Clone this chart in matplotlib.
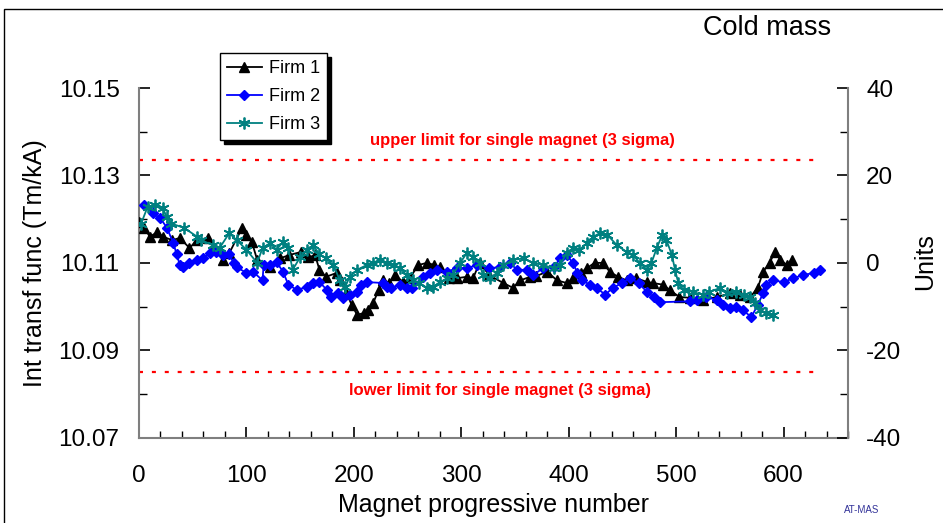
import matplotlib.pyplot as plt
from matplotlib.patches import Rectangle
from matplotlib.ticker import MultipleLocator
import numpy as np

plt.rcParams['font.family'] = ['Liberation Sans', 'DejaVu Sans']
plt.rcParams['axes.unicode_minus'] = False

# Integral transfer function vs magnet progressive number (cold mass)
firm1_n = [0, 5, 10, 17, 22, 31, 38, 47, 54, 64, 70, 78, 84, 96, 100, 105, 110, 122, 131, 140,
           151, 157, 164, 168, 174, 184, 187, 193, 198, 203, 209, 213, 218, 223, 227, 233, 238,
           246, 252, 260, 268, 275, 280, 289, 296, 305, 311, 317, 326, 339, 348, 355, 364, 370,
           380, 389, 398, 404, 411, 417, 424, 432, 438, 446, 454, 463, 473, 478, 488, 494, 503,
           513, 525, 538, 550, 559, 569, 576, 581, 587, 592, 597, 603, 608]
firm1_v = [10.1193, 10.118, 10.116, 10.117, 10.116, 10.1152, 10.1157, 10.1134, 10.1152, 10.1157,
           10.1134, 10.1107, 10.1122, 10.118, 10.1164, 10.1148, 10.1107, 10.109, 10.111, 10.1118,
           10.1125, 10.1113, 10.1117, 10.1084, 10.1068, 10.1077, 10.106, 10.1031, 10.1004, 10.0981,
           10.0985, 10.0992, 10.1008, 10.1038, 10.106, 10.1054, 10.1072, 10.1056, 10.1065, 10.1095,
           10.110, 10.1095, 10.109, 10.1065, 10.1065, 10.1068, 10.1065, 10.110, 10.1072, 10.1054,
           10.1043, 10.106, 10.1068, 10.107, 10.108, 10.106, 10.1054, 10.1065, 10.1077, 10.1088,
           10.110, 10.110, 10.108, 10.1068, 10.106, 10.1065, 10.1056, 10.1054, 10.105, 10.1038,
           10.1022, 10.102, 10.1015, 10.1022, 10.103, 10.1027, 10.1022, 10.1043, 10.108, 10.110,
           10.1125, 10.1107, 10.1095, 10.1107]

firm2_n = [5, 13, 20, 26, 32, 35, 38, 41, 47, 54, 60, 66, 72, 78, 84, 88, 91, 100, 106, 115,
           116, 122, 128, 134, 139, 147, 156, 162, 168, 175, 179, 185, 190, 196, 203, 207, 212,
           227, 231, 235, 243, 249, 254, 264, 271, 277, 287, 296, 305, 315, 326, 336, 345, 352,
           361, 367, 376, 386, 392, 398, 404, 408, 412, 420, 426, 434, 441, 450, 457, 465, 473,
           479, 485, 513, 519, 528, 538, 544, 550, 556, 562, 570, 576, 581, 584, 590, 600, 609,
           618, 628, 634]
firm2_v = [10.1232, 10.1213, 10.1202, 10.118, 10.1145, 10.112, 10.1095, 10.109, 10.110, 10.1107,
           10.111, 10.1122, 10.1125, 10.1117, 10.112, 10.110, 10.109, 10.1077, 10.108, 10.106,
           10.1095, 10.1095, 10.1102, 10.108, 10.105, 10.1038, 10.1045, 10.1054, 10.1056, 10.1038,
           10.1022, 10.1031, 10.102, 10.1026, 10.1033, 10.1049, 10.1056, 10.1054, 10.1045, 10.1043,
           10.105, 10.1043, 10.1043, 10.1068, 10.1077, 10.1084, 10.108, 10.1088, 10.1088, 10.1095,
           10.1088, 10.109, 10.110, 10.1084, 10.1084, 10.1072, 10.1088, 10.109, 10.111, 10.1118,
           10.110, 10.1077, 10.106, 10.105, 10.1043, 10.1027, 10.1043, 10.1054, 10.1065, 10.1054,
           10.1033, 10.1022, 10.101, 10.1012, 10.1015, 10.1022, 10.1015, 10.1004, 10.0997, 10.100,
           10.0992, 10.0976, 10.1004, 10.1031, 10.105, 10.106, 10.1056, 10.1065, 10.1072, 10.1077,
           10.1084]

firm3_n = [2, 8, 15, 22, 26, 30, 42, 54, 58, 69, 75, 84, 91, 100, 110, 115, 122, 128, 134, 139,
           143, 150, 156, 162, 168, 174, 181, 187, 192, 196, 203, 212, 218, 224, 231, 237, 243,
           249, 255, 261, 268, 274, 280, 287, 292, 299, 305, 311, 317, 320, 327, 333, 339, 348,
           358, 367, 376, 386, 392, 398, 404, 410, 417, 423, 429, 436, 445, 454, 460, 466, 473,
           477, 482, 487, 491, 496, 499, 502, 507, 516, 525, 531, 541, 547, 556, 563, 569, 573,
           578, 584, 590]
firm3_v = [10.119, 10.1228, 10.1232, 10.1225, 10.1205, 10.119, 10.118, 10.116, 10.1152, 10.114,
           10.1134, 10.1168, 10.1152, 10.113, 10.110, 10.1134, 10.1145, 10.113, 10.1148, 10.1134,
           10.1084, 10.1113, 10.113, 10.114, 10.112, 10.111, 10.1095, 10.106, 10.1045, 10.1068,
           10.1084, 10.1095, 10.110, 10.1107, 10.110, 10.1095, 10.1088, 10.1072, 10.106, 10.1054,
           10.1043, 10.1045, 10.1056, 10.1065, 10.1072, 10.110, 10.1122, 10.1113, 10.110, 10.1072,
           10.1065, 10.1077, 10.1095, 10.1107, 10.111, 10.110, 10.1095, 10.1088, 10.1095, 10.1122,
           10.1134, 10.113, 10.1145, 10.116, 10.1168, 10.1164, 10.114, 10.1125, 10.1118, 10.110,
           10.1084, 10.110, 10.1134, 10.1164, 10.1152, 10.1118, 10.1084, 10.1054, 10.1038, 10.1033,
           10.1027, 10.1033, 10.1043, 10.103, 10.1033, 10.1027, 10.1022, 10.1008, 10.0992, 10.0985,
           10.098]

upper_limit = 10.1335
lower_limit = 10.085
limit_span = [0, 635]

left_ticks = [10.07, 10.09, 10.11, 10.13, 10.15]
left_minor = [10.08, 10.10, 10.12, 10.14]

fig = plt.figure(figsize=(9.43, 5.23), dpi=100)
ax = fig.add_axes([0.1474, 0.1631, 0.7519, 0.6686])
ax2 = ax.twinx()

# outer frame of the slide
fig.patches.append(Rectangle((3.5 / 943, -0.1), 1.2, 1.1 - 9.5 / 523,
                             transform=fig.transFigure, fill=False, ec='black', lw=1.0))

ax.plot(firm1_n, firm1_v, color='black', lw=1.3, marker='^', ms=7, label='Firm 1', zorder=3)
ax.plot(firm2_n, firm2_v, color='#0000ff', lw=1.3, marker='D', ms=4.8, label='Firm 2', zorder=4)
ax.plot(firm3_n, firm3_v, color='#008080', lw=1.3, marker=(6, 2, 0), ms=8.5, mew=1.3,
        label='Firm 3', zorder=5)

ax.plot(limit_span, [upper_limit] * 2, color='red', lw=1.6, dashes=(1.8, 4.0))
ax.plot(limit_span, [lower_limit] * 2, color='red', lw=1.6, dashes=(1.8, 4.0))
ax.text(357, 10.1379, 'upper limit for single magnet (3 sigma)', color='red', fontsize=12,
        fontweight='bold', ha='center', va='center')
ax.text(336, 10.0809, 'lower limit for single magnet (3 sigma)', color='red', fontsize=12,
        fontweight='bold', ha='center', va='center')

ax.set_xlim(0, 660)
ax.set_ylim(10.07, 10.15)
ax2.set_ylim(-40, 40)

ax.xaxis.set_major_locator(MultipleLocator(100))
ax.xaxis.set_minor_locator(MultipleLocator(20))
ax.set_yticks(left_ticks)
ax.set_yticks(left_minor, minor=True)
ax.set_yticklabels(['%.2f' % v for v in left_ticks])
ax2.yaxis.set_major_locator(MultipleLocator(20))
ax2.yaxis.set_minor_locator(MultipleLocator(10))

for a in (ax, ax2):
    a.spines['top'].set_visible(False)
    for s in ('left', 'right', 'bottom'):
        a.spines[s].set_color('#7f7f7f')
        a.spines[s].set_linewidth(1.5)
ax.spines['right'].set_visible(False)
ax2.spines['left'].set_visible(False)
ax2.spines['bottom'].set_visible(False)

ax.tick_params(axis='x', which='major', direction='in', length=8, width=1.2, pad=20, labelsize=17.5)
ax.tick_params(axis='x', which='minor', direction='in', length=5, width=1.0)
ax.tick_params(axis='y', which='major', direction='in', length=8, width=1.2, pad=14, labelsize=17.5)
ax.tick_params(axis='y', which='minor', direction='in', length=6, width=1.0)
ax2.tick_params(axis='y', which='major', direction='in', length=8, width=1.2, pad=13, labelsize=17.5)
ax2.tick_params(axis='y', which='minor', direction='in', length=6, width=1.0)

fig.text(494 / 943, 1 - 505 / 523, 'Magnet progressive number', fontsize=18, ha='center', va='center')
fig.text(35 / 943, 1 - 263 / 523, 'Int transf func (Tm/kA)', fontsize=18, rotation=90,
         ha='center', va='center')
fig.text(925 / 943, 1 - 262 / 523, 'Units', fontsize=18, rotation=90, ha='center', va='center')
fig.text(767 / 943, 1 - 28 / 523, 'Cold mass', fontsize=19.5, ha='center', va='center')
fig.text(862 / 943, 1 - 510 / 523, 'AT-MAS', fontsize=7, color='#333399', ha='center', va='center')

leg = ax.legend(loc='upper left', bbox_to_anchor=(220 / 943, 1 - 53 / 523),
                bbox_transform=fig.transFigure, fontsize=13, frameon=True, fancybox=False,
                shadow={'color': 'black', 'alpha': 1.0, 'ox': 3, 'oy': -3},
                borderpad=0.4, labelspacing=0.6, handlelength=1.9, handletextpad=0.4,
                borderaxespad=0)
leg.get_frame().set_edgecolor('black')
leg.get_frame().set_linewidth(1.0)

fig.savefig('out.png', dpi=100)
